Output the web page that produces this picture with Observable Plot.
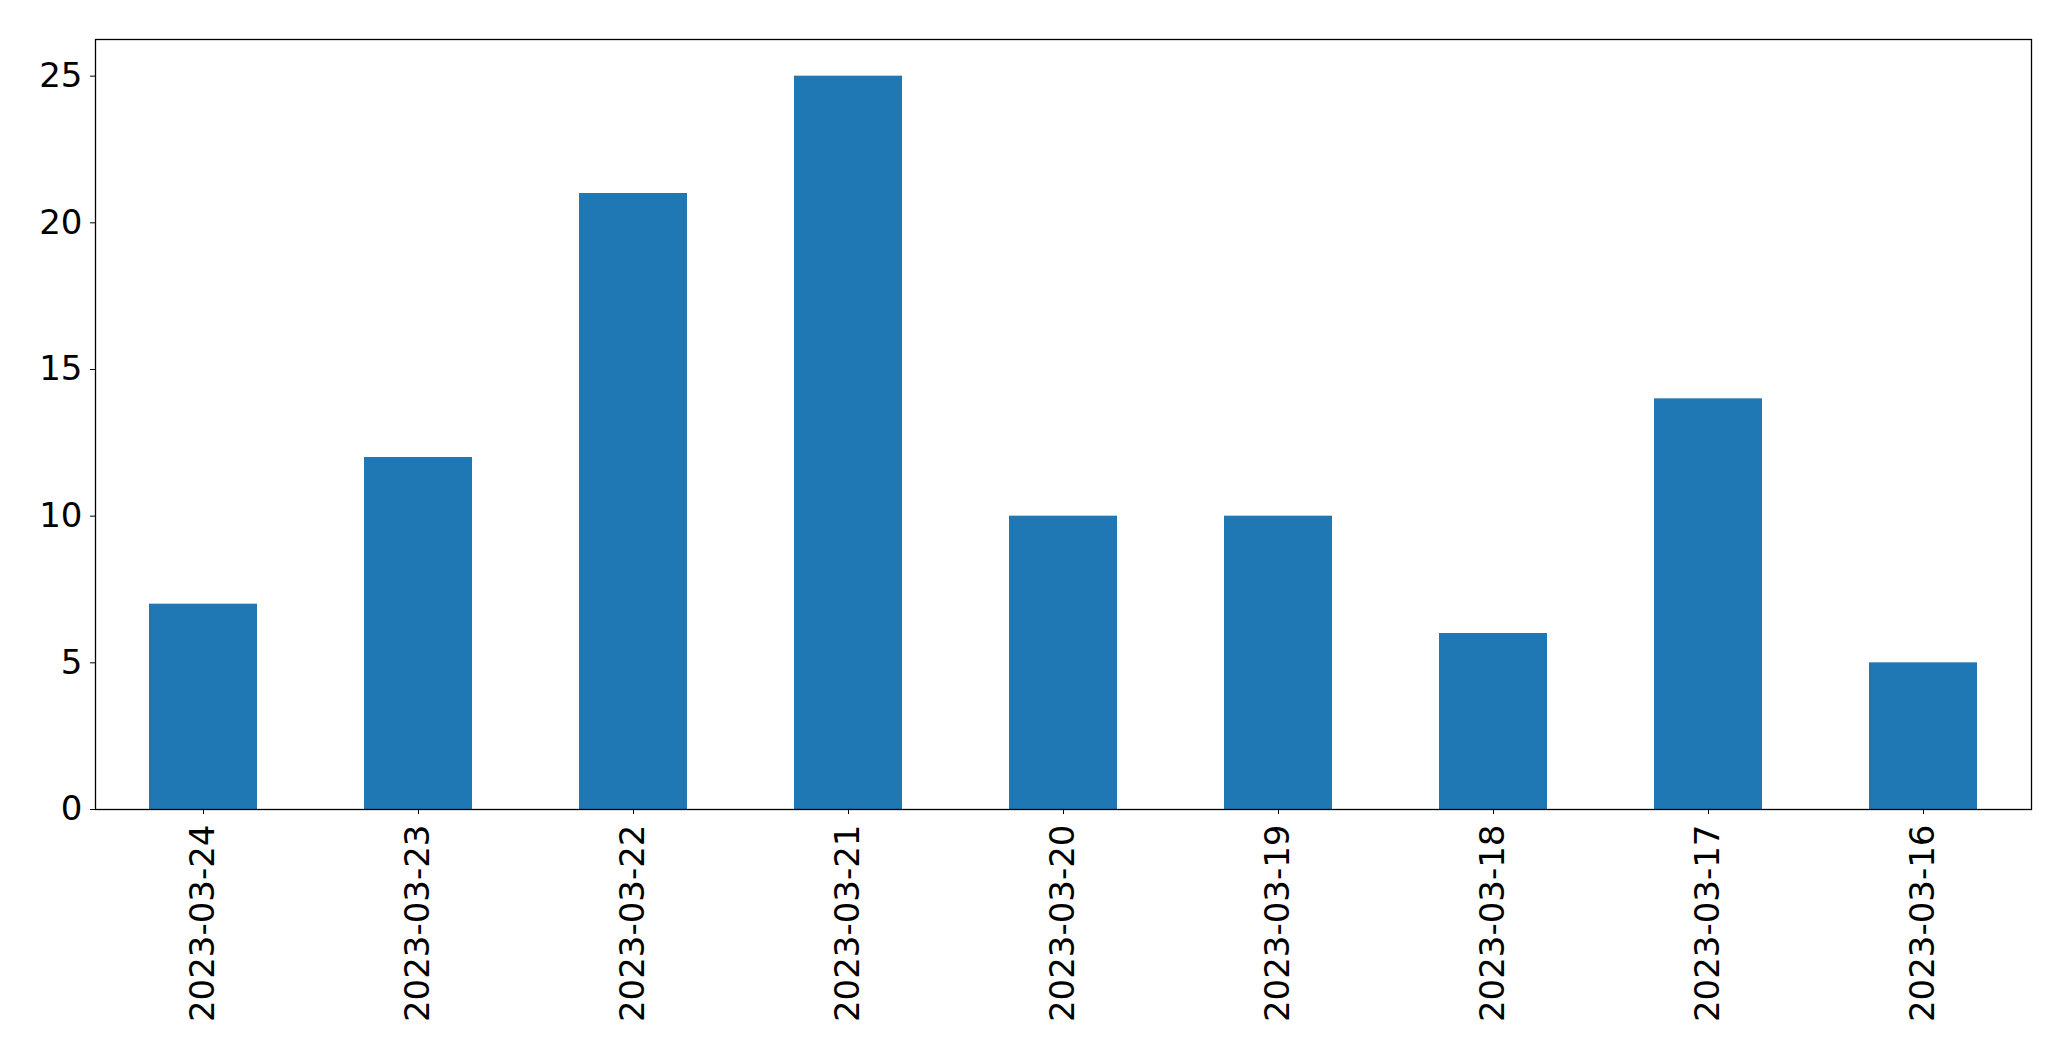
<!DOCTYPE html>
<html>
<head>
<meta charset="utf-8">
<script src="https://cdn.jsdelivr.net/npm/d3@7"></script>
<script src="https://cdn.jsdelivr.net/npm/@observablehq/plot@0.6"></script>
<style>
  html, body { margin: 0; padding: 0; background: #fff; }
  #chart svg { display: block; }
</style>
</head>
<body>
<div id="chart"></div>
<script>
const dates = ["2023-03-24","2023-03-23","2023-03-22","2023-03-21","2023-03-20","2023-03-19","2023-03-18","2023-03-17","2023-03-16"];
const counts = [7, 12, 21, 25, 10, 10, 6, 14, 5];
const yTicks = [0, 5, 10, 15, 20, 25];

const data = dates.map((d, i) => ({date: d, count: counts[i]}));

const chart = Plot.plot({
  width: 2071,
  height: 1061,
  marginLeft: 95,
  marginRight: 40,
  marginTop: 39,
  marginBottom: 252,
  style: {fontFamily: "DejaVu Sans", fontSize: "34px", color: "#000", background: "#fff", overflow: "visible"},
  x: {type: "band", domain: dates, paddingInner: 0.5, paddingOuter: 0.25, label: null},
  y: {domain: [0, 26.25], label: null},
  marks: [
    Plot.barY(data, {x: "date", y: "count", fill: "#1f77b4"}),
    Plot.axisY({ticks: yTicks, tickSize: 5, tickPadding: 8, label: null, stroke: "#000"}),
    Plot.axisX({tickRotate: -90, tickSize: 5, tickPadding: 10, label: null, stroke: "#000"}),
    Plot.frame({stroke: "#000", strokeWidth: 1.3})
  ]
});
document.getElementById("chart").appendChild(chart);
</script>
</body>
</html>
